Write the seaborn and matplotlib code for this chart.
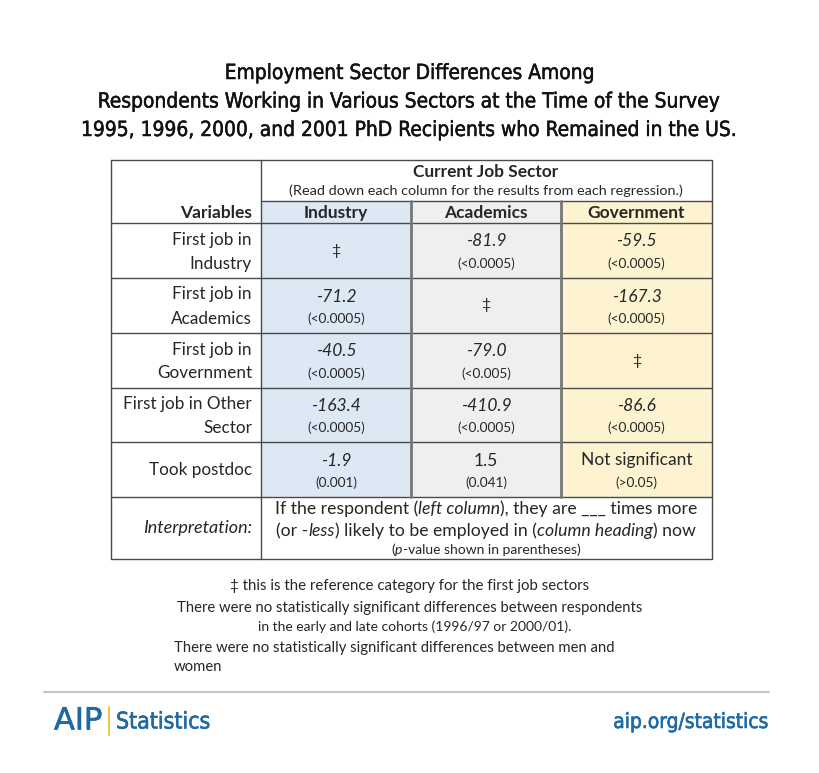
import matplotlib
matplotlib.use("Agg")
import matplotlib.pyplot as plt
import matplotlib.patheffects as pe
import numpy as np
import seaborn as sns
from matplotlib.colors import ListedColormap

# ---- table content ----
sectors = ["Industry", "Academics", "Government"]
row_labels = [
    ["First job in", "Industry"],
    ["First job in", "Academics"],
    ["First job in", "Government"],
    ["First job in Other", "Sector"],
    ["Took postdoc"],
]
# odds-ratio style coefficients, None = reference category, "ns" = not significant
coef_industry = [None, -71.2, -40.5, -163.4, -1.9]
coef_academics = [-81.9, None, -79.0, -410.9, 1.5]
coef_government = [-59.5, -167.3, None, -86.6, "ns"]
pval_industry = [None, "(<0.0005)", "(<0.0005)", "(<0.0005)", "(0.001)"]
pval_academics = ["(<0.0005)", None, "(<0.005)", "(<0.0005)", "(0.041)"]
pval_government = ["(<0.0005)", "(<0.0005)", None, "(<0.0005)", "(>0.05)"]

sector_colors = ["#dde8f5", "#eeeff1", "#fdf3d0"]

title_lines = [
    "Employment Sector Differences Among",
    "Respondents Working in Various Sectors at the Time of the Survey",
    "1995, 1996, 2000, and 2001 PhD Recipients who Remained in the US.",
]

BODY_FONT = ["Lato", "DejaVu Sans"]
BLUE = "#1f6aa5"

sns.set_style("white")
plt.rcParams["font.family"] = BODY_FONT

W, H = 820, 773
fig = plt.figure(figsize=(W / 100, H / 100), dpi=100)


def px_axes(x0, y0, x1, y1, **kw):
    return fig.add_axes([x0 / W, 1 - y1 / H, (x1 - x0) / W, (y1 - y0) / H], **kw)


# table geometry (pixels)
left, right, top, bottom = 111, 712, 160, 559
col_edges = [261, 411, 561, 712]
head_top, head_bot = 201, 223
row_edges = [223, 278, 333, 388, 442, 497]

# cell shading via seaborn heatmaps (header strip + data block)
codes = np.tile(np.arange(len(sectors)), (len(row_labels), 1))
cmap = ListedColormap(sector_colors)
ax_body = px_axes(col_edges[0], row_edges[0], col_edges[-1], row_edges[-1], zorder=0)
sns.heatmap(codes, ax=ax_body, cmap=cmap, vmin=-0.5, vmax=2.5, cbar=False,
            xticklabels=False, yticklabels=False)
ax_head = px_axes(col_edges[0], head_top, col_edges[-1], head_bot, zorder=0)
sns.heatmap(codes[:1], ax=ax_head, cmap=cmap, vmin=-0.5, vmax=2.5, cbar=False,
            xticklabels=False, yticklabels=False)

# overlay in pixel coordinates for lines and text
ax = fig.add_axes([0, 0, 1, 1], zorder=2)
ax.patch.set_alpha(0)
ax.set_xlim(0, W)
ax.set_ylim(H, 0)
ax.axis("off")

line_c = "#4a4a4a"
ax.plot([left, right, right, left, left], [top, top, bottom, bottom, top], color=line_c, lw=1)
ax.plot([col_edges[0], col_edges[0]], [top, bottom], color=line_c, lw=1)
ax.plot([col_edges[0], right], [head_top, head_top], color=line_c, lw=1)
for y in row_edges:
    ax.plot([left, right], [y, y], color=line_c, lw=1)
for x in col_edges[1:3]:
    ax.plot([x, x], [head_top, row_edges[-1]], color="#777777", lw=2)

# title (condensed face, slightly heavier via a thin stroke)
for i, t in enumerate(title_lines):
    ax.text(410, 73 + i * 28.5, t, ha="center", va="center", fontsize=15,
            family="DejaVu Sans", stretch="condensed", color="#111111",
            path_effects=[pe.withStroke(linewidth=0.35, foreground="#111111")])

# header
ax.text(486, 172, "Current Job Sector", ha="center", va="center", fontsize=12.4, weight="bold")
ax.text(486, 191, "(Read down each column for the results from each regression.)",
        ha="center", va="center", fontsize=10.4)
ax.text(252, 213, "Variables", ha="right", va="center", fontsize=12.5, weight="bold")
centers_x = [(col_edges[i] + col_edges[i + 1]) / 2 for i in range(3)]
for cx, s in zip(centers_x, sectors):
    ax.text(cx, 213, s, ha="center", va="center", fontsize=12.5, weight="bold")

# rows
coefs = [coef_industry, coef_academics, coef_government]
pvals = [pval_industry, pval_academics, pval_government]
for r, lab in enumerate(row_labels):
    cy = (row_edges[r] + row_edges[r + 1]) / 2
    if len(lab) == 2:
        ax.text(252, cy - 11, lab[0], ha="right", va="center", fontsize=12.3)
        ax.text(252, cy + 13, lab[1], ha="right", va="center", fontsize=12.3)
    else:
        ax.text(252, cy, lab[0], ha="right", va="center", fontsize=12.3)
    for c in range(3):
        v, p = coefs[c][r], pvals[c][r]
        if v is None:
            ax.text(centers_x[c], cy, "\u2021", ha="center", va="center", fontsize=11.5)
            continue
        if v == "ns":
            txt, style = "Not significant", "normal"
        else:
            txt, style = f"{v:.1f}", "italic" if v < 0 else "normal"
        ax.text(centers_x[c], cy - 9, txt, ha="center", va="center", fontsize=12.5, style=style)
        ax.text(centers_x[c], cy + 13, p, ha="center", va="center", fontsize=9.8)

# interpretation row with mixed styles
renderer = fig.canvas.get_renderer()


def rich_line(x, y, parts, size):
    widths = []
    for s, st in parts:
        t = ax.text(0, 0, s, fontsize=size, style=st)
        widths.append(t.get_window_extent(renderer).width)
        t.remove()
    pos = x - sum(widths) / 2
    for (s, st), w in zip(parts, widths):
        ax.text(pos, y, s, fontsize=size, style=st, ha="left", va="center")
        pos += w


ax.text(252, 528, "Interpretation:", ha="right", va="center", fontsize=13, style="italic")
rich_line(486, 509, [("If the respondent (", "normal"), ("left column", "italic"),
                     ("), they are ___ times more", "normal")], 12.7)
rich_line(486, 531, [("(or -", "normal"), ("less", "italic"),
                     (") likely to be employed in (", "normal"), ("column heading", "italic"),
                     (") now", "normal")], 12.7)
rich_line(486, 550, [("(", "normal"), ("p", "italic"),
                     ("-value shown in parentheses)", "normal")], 10)

# notes
ax.text(410, 586, "\u2021 this is the reference category for the first job sectors",
        ha="center", va="center", fontsize=10.8)
ax.text(410, 608, "There were no statistically significant differences between respondents",
        ha="center", va="center", fontsize=10.7)
ax.text(415, 627, "in the early and late cohorts (1996/97 or 2000/01).",
        ha="center", va="center", fontsize=10)
ax.text(174, 648, "There were no statistically significant differences between men and",
        ha="left", va="center", fontsize=10.7)
ax.text(174, 667, "women", ha="left", va="center", fontsize=10.7)

# footer
heavy = [pe.withStroke(linewidth=0.45, foreground=BLUE)]
ax.plot([44, 769], [692, 692], color="#c4c4c4", lw=1.5)
ax.text(54, 721, "AIP", ha="left", va="center", fontsize=22, color=BLUE,
        family="DejaVu Sans", path_effects=heavy)
ax.plot([109, 109], [707, 735], color="#f2c12e", lw=1.3)
ax.text(116, 722, "Statistics", ha="left", va="center", fontsize=16.5, color=BLUE,
        family="DejaVu Sans", stretch="condensed", path_effects=heavy)
ax.text(769, 722, "aip.org/statistics", ha="right", va="center", fontsize=15, color=BLUE,
        family="DejaVu Sans", stretch="condensed", path_effects=heavy)

fig.savefig("out.png", dpi=100)
